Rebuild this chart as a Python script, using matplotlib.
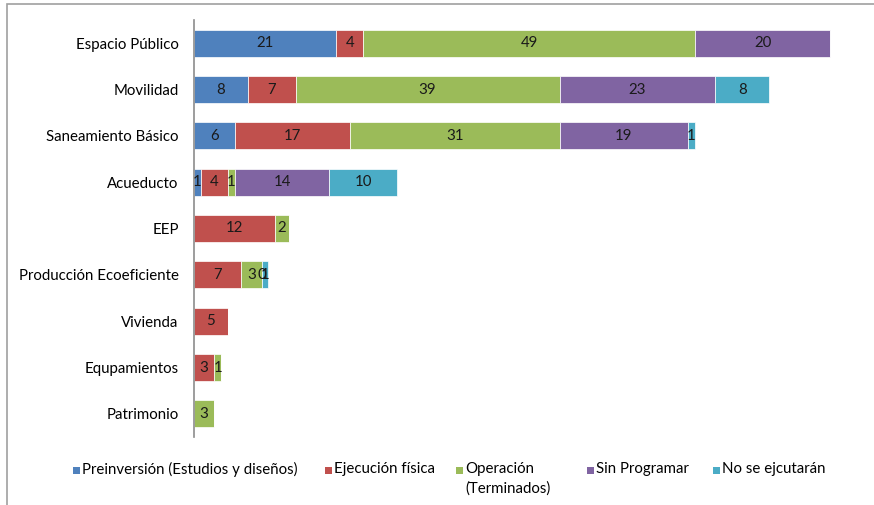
import numpy as np
import matplotlib.pyplot as plt
from matplotlib.patches import Rectangle

# categorias (de arriba hacia abajo)
categorias = ['Espacio Público', 'Movilidad', 'Saneamiento Básico', 'Acueducto', 'EEP',
              'Producción Ecoeficiente', 'Vivienda', 'Equpamientos', 'Patrimonio']

series = ['Preinversión (Estudios y diseños)', 'Ejecución física', 'Operación\n(Terminados)',
          'Sin Programar', 'No se ejcutarán']

# None = celda vacia (sin etiqueta)
preinversion = [21, 8, 6, 1, None, None, None, None, None]
ejecucion    = [4, 7, 17, 4, 12, 7, 5, 3, None]
operacion    = [49, 39, 31, 1, 2, 3, None, 1, 3]
sin_prog     = [20, 23, 19, 14, None, 0, None, None, None]
no_ejec      = [None, 8, 1, 10, None, 1, None, None, None]

valores = [preinversion, ejecucion, operacion, sin_prog, no_ejec]
colores = ['#4F81BD', '#C0504D', '#9BBB59', '#8064A2', '#4BACC6']

plt.rcParams['font.family'] = ['Lato', 'DejaVu Sans']
fs = 10.8

W, H = 874, 505
fig = plt.figure(figsize=(W / 100, H / 100), dpi=100)
ax = fig.add_axes([194 / W, 1 - 437 / H, 677 / W, 417 / H])

y = np.arange(len(categorias))
izq = np.zeros(len(categorias))
for vals, col, nom in zip(valores, colores, series):
    v = np.array([0 if x is None else x for x in vals], dtype=float)
    bars = ax.barh(y, v, left=izq, height=0.58, color=col, edgecolor='white',
                   linewidth=0.5, label=nom)
    for i, x in enumerate(vals):
        if x is None:
            continue
        ax.text(izq[i] + v[i] / 2, y[i], str(x), ha='center', va='center',
                fontsize=fs, color='#1a1a1a')
    izq += v

ax.set_xlim(0, 100)
ax.set_ylim(len(categorias) - 0.5, -0.5)
ax.set_yticks(y)
ax.set_yticklabels(categorias, fontsize=fs)
ax.tick_params(axis='y', length=0, pad=11)
ax.set_xticks([])
for s in ['top', 'right', 'bottom']:
    ax.spines[s].set_visible(False)
ax.spines['left'].set_color('#8c8c8c')
ax.spines['left'].set_linewidth(1.2)

# leyenda (primera linea alineada, como en el original)
leg_x = [73, 325, 456, 587, 713]
leg_y = 470
for xpx, col, nom in zip(leg_x, colores, series):
    fig.add_artist(Rectangle((xpx / W, 1 - (leg_y + 3.5) / H), 7 / W, 7 / H,
                             transform=fig.transFigure, facecolor=col, edgecolor='none'))
    fig.text((xpx + 9) / W, 1 - (leg_y - 8) / H, nom, ha='left', va='top',
             fontsize=fs, linespacing=1.45)

# marco de la figura
fig.add_artist(Rectangle((7 / W, -0.01), 1.0, 1 - 4 / H + 0.01, transform=fig.transFigure,
                         fill=False, edgecolor='#a0a0a0', linewidth=1.2))

fig.savefig('out.png', dpi=100)
